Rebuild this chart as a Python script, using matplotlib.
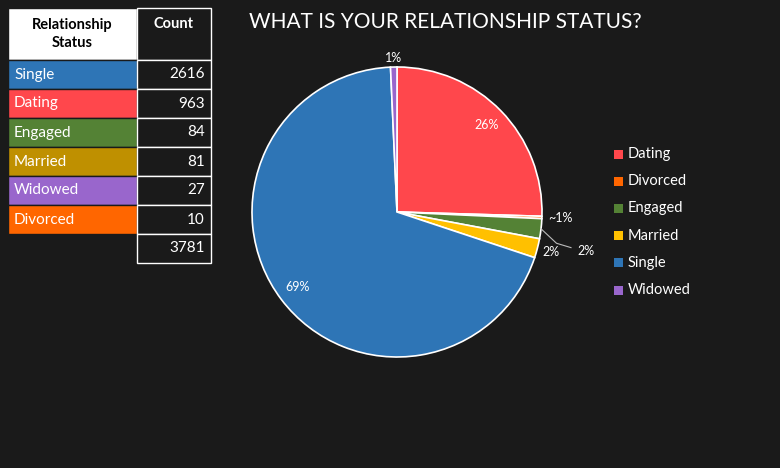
import numpy as np
import matplotlib
matplotlib.use('Agg')
import matplotlib.pyplot as plt
from matplotlib.patches import Rectangle

plt.rcParams['font.family'] = ['Lato', 'DejaVu Sans']

# table data (sorted by count)
table_status = ['Single', 'Dating', 'Engaged', 'Married', 'Widowed', 'Divorced']
table_counts = [2616, 963, 84, 81, 27, 10]
table_colors = ['#2E75B6', '#FF474C', '#548235', '#BF9000', '#9966CC', '#FF6600']

# pie data (alphabetical)
pie_status = ['Dating', 'Divorced', 'Engaged', 'Married', 'Single', 'Widowed']
pie_counts = [963, 10, 84, 81, 2616, 27]
pie_colors = ['#FF474C', '#FF6600', '#548235', '#FFC000', '#2E75B6', '#9966CC']
pie_labels = ['26%', '~1%', '2%', '2%', '69%', '1%']

bg = '#1A1A1A'
fig = plt.figure(figsize=(7.8, 4.68), dpi=100, facecolor=bg)

# table drawn in pixel coords
tax = fig.add_axes([0, 0, 1, 1])
tax.set_xlim(0, 780)
tax.set_ylim(468, 0)
tax.axis('off')
x0, x1, x2 = 8, 137, 211
tax.add_patch(Rectangle((x0, 8), x1 - x0, 52, facecolor='white', edgecolor='#1A1A1A'))
tax.add_patch(Rectangle((x1, 8), x2 - x1, 52, facecolor=bg, edgecolor='white'))
tax.text((x0 + x1) / 2, 34, 'Relationship\nStatus', ha='center', va='center',
         color='black', fontsize=10.5, fontweight='bold', linespacing=1.3)
tax.text((x1 + x2) / 2, 24, 'Count', ha='center', va='center',
         color='white', fontsize=10.5, fontweight='bold')
rh = 29
for i, (s, c, col) in enumerate(zip(table_status, table_counts, table_colors)):
    y = 60 + i * rh
    tax.add_patch(Rectangle((x0, y), x1 - x0, rh, facecolor=col, edgecolor=bg, lw=1))
    tax.add_patch(Rectangle((x1, y), x2 - x1, rh, facecolor=bg, edgecolor='white', lw=1))
    tax.text(x0 + 6, y + rh / 2, s, ha='left', va='center', color='white', fontsize=11)
    tax.text(x2 - 6, y + rh / 2, str(c), ha='right', va='center', color='white', fontsize=11)
y = 60 + len(table_status) * rh
tax.add_patch(Rectangle((x1, y), x2 - x1, rh, facecolor=bg, edgecolor='white', lw=1))
tax.text(x2 - 6, y + rh / 2, str(sum(table_counts)), ha='right', va='center',
         color='white', fontsize=11)

tax.text(445, 22, 'WHAT IS YOUR RELATIONSHIP STATUS?', ha='center', va='center',
         color='white', fontsize=15)

# pie
cx, cy, r = 397, 212, 145
pax = fig.add_axes([(cx - r) / 780, (468 - cy - r) / 468, 2 * r / 780, 2 * r / 468])
wedges, _ = pax.pie(pie_counts, colors=pie_colors, startangle=90, counterclock=False,
                    wedgeprops=dict(edgecolor='white', linewidth=1.2))
pax.set_xlim(-1, 1)
pax.set_ylim(-1, 1)
pax.set_aspect('equal')
pax.axis('off')

for w, lab in zip(wedges, pie_labels):
    ang = np.deg2rad((w.theta1 + w.theta2) / 2)
    ca, sa = np.cos(ang), np.sin(ang)
    if lab in ('26%', '69%'):
        pax.text(0.86 * ca, 0.86 * sa, lab, ha='center', va='center', color='white', fontsize=9)
    elif lab == '~1%':
        pax.text(1.13 * ca, 1.13 * sa, lab, ha='center', va='center', color='white', fontsize=9)
    elif lab == '1%':
        pax.text(1.08 * ca, 1.06 * sa, lab, ha='center', va='center', color='white', fontsize=9)
    elif lab == '2%' and w.get_facecolor()[1] > 0.6:
        pax.text(1.1 * ca, 1.1 * sa, lab, ha='center', va='center', color='white', fontsize=9)
    else:
        pax.plot([ca, 1.1, 1.2], [sa, sa - 0.1, sa - 0.13], color='#BBBBBB', lw=0.8, clip_on=False)
        pax.text(1.3, sa - 0.15, lab, ha='center', va='center', color='white', fontsize=9)

# legend
for i, (s, col) in enumerate(zip(pie_status, pie_colors)):
    y = 154 + i * 27.2
    tax.add_patch(Rectangle((614, y - 4.5), 9, 9, facecolor=col, edgecolor='none'))
    tax.text(628, y, s, ha='left', va='center', color='white', fontsize=10.5)

fig.savefig('out.png', dpi=100, facecolor=bg)
